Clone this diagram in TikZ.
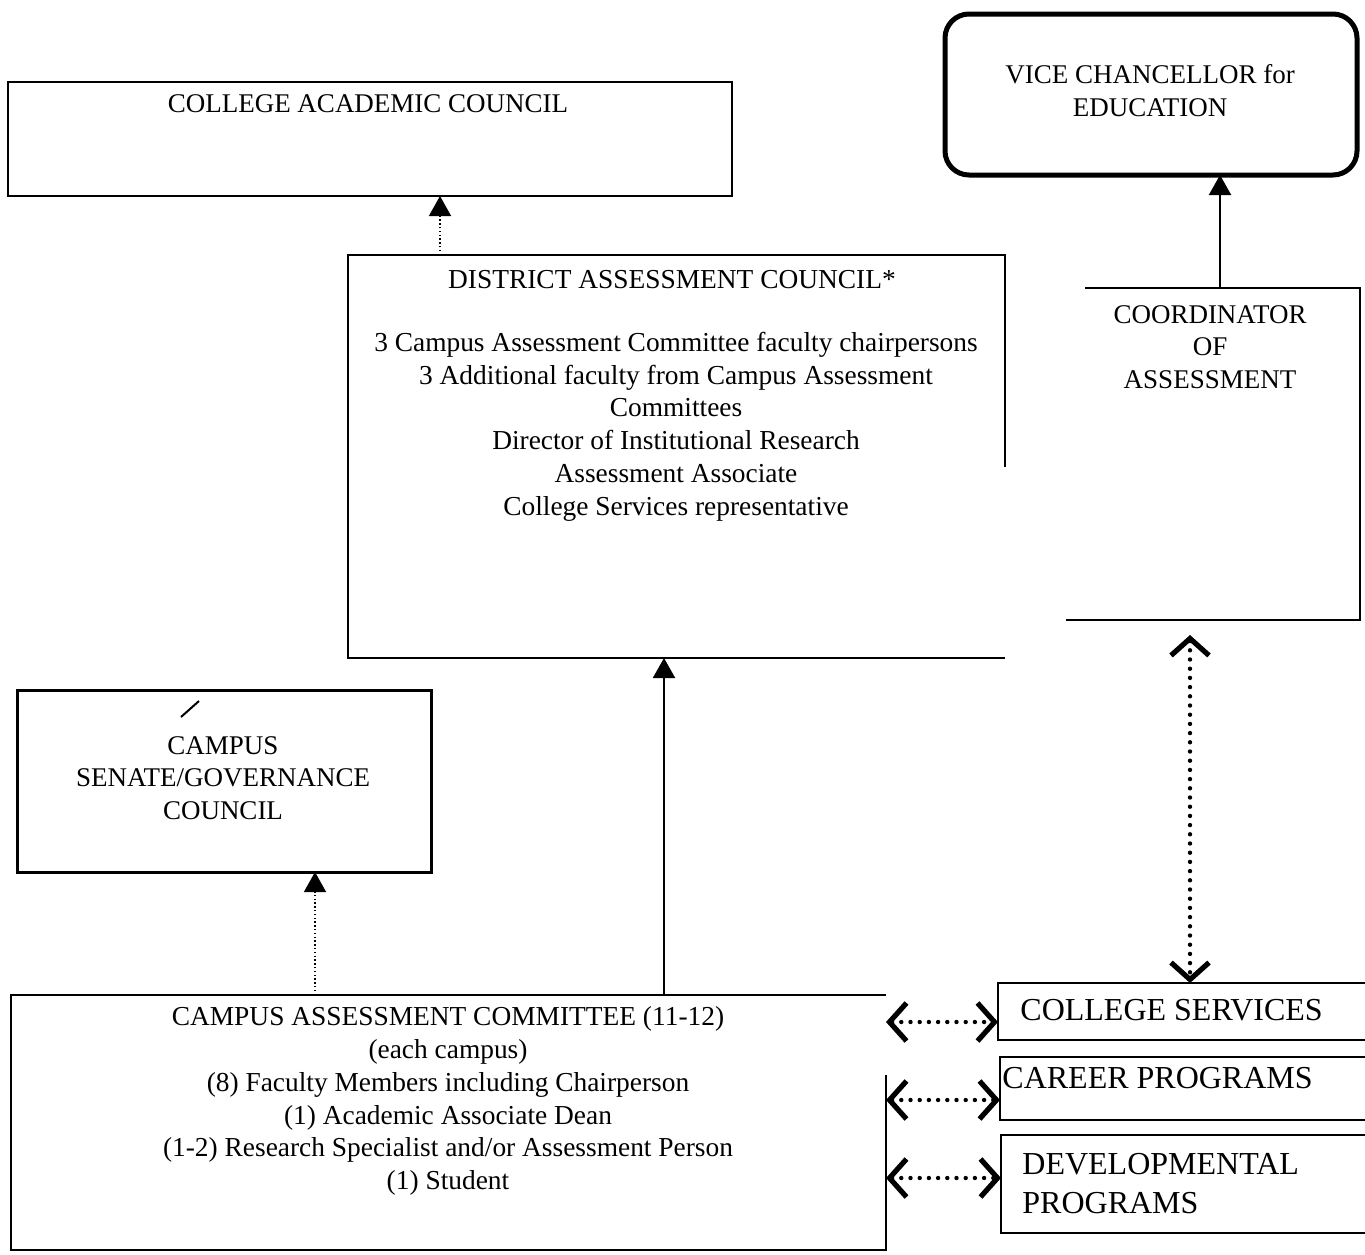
\documentclass[tikz,border=0pt]{standalone}
\usepackage{fontspec}
\setmainfont{Liberation Serif}
\usetikzlibrary{arrows.meta}
\begin{document}
\begin{tikzpicture}[x=0.5pt,y=-0.5pt,
 box/.style={draw=black, line width=1.2pt, inner sep=0pt, outer sep=0pt},
 frame/.style={inner sep=0pt, outer sep=0pt},
 lbl/.style={align=center, inner sep=0pt, font=\fontsize{13.7}{16.4}\selectfont},
 biglbl/.style={align=left, inner sep=0pt, anchor=west, font=\fontsize{16}{19.5}\selectfont},
 up/.style={-{Triangle[width=11pt,length=10pt]}, line width=1pt},
 dotup/.style={-{Triangle[width=11pt,length=10pt]}, line width=0.7pt, dash pattern=on 0.7pt off 1.2pt},
 vtip/.tip={Straight Barb[length=8.5pt,width=19pt,line width=2.6pt]},
 vv/.style={vtip-vtip, line width=2.2pt, dash pattern=on 0pt off 4.6pt, line cap=round}
]
\useasboundingbox (0,0) rectangle (1365,1254);

% boxes
\node[box, minimum width=362pt, minimum height=57pt] (cac) at (370,139) {};
\node[box, line width=2.5pt, rounded corners=12pt, minimum width=206pt, minimum height=80.5pt] (vc) at (1151,94.5) {};
\node[frame, minimum width=328.5pt, minimum height=201.5pt] (dac) at (676.5,456.5) {};
\draw[line width=1.2pt] ([yshift=-106pt]dac.north east) -- (dac.north east) -- (dac.north west) -- (dac.south west) -- (dac.south east);
\node[frame, minimum width=147pt, minimum height=166pt] (coa) at (1213,454) {};
\draw[line width=1.2pt] ([xshift=9.5pt]coa.north west) -- (coa.north east) -- (coa.south east) -- (coa.south west);
\node[box, line width=1.5pt, minimum width=207pt, minimum height=91pt] (csg) at (224,781) {};
\node[frame, minimum width=437.5pt, minimum height=127.5pt] (cam) at (448.5,1122.5) {};
\draw[line width=1.2pt] (cam.north east) -- (cam.north west) -- (cam.south west) -- (cam.south east) -- ([yshift=-40pt]cam.north east);
\node[box, minimum width=186pt, minimum height=28.5pt] (csv) at (1184,1011.5) {};
\node[box, minimum width=185pt, minimum height=31.5pt] (cpr) at (1185,1088.5) {};
\node[box, minimum width=184.5pt, minimum height=49pt] (dev) at (1185.5,1184) {};

% texts
\node[lbl, font=\fontsize{13.5}{16.4}\selectfont] (tcac) at (368,104) {COLLEGE ACADEMIC COUNCIL};
\node[lbl, font=\fontsize{13.5}{16.4}\selectfont] (tvc) at (1150,90.5) {VICE CHANCELLOR for\\EDUCATION};
\node[lbl] (tdac) at (672,280) {DISTRICT ASSESSMENT COUNCIL*};
\node[lbl] (tdacb) at (676,426.5) {3 Campus Assessment Committee faculty chairpersons\\3 Additional faculty from Campus Assessment\\Committees\\Director of Institutional Research\\Assessment Associate\\College Services representative};
\node[lbl, font=\fontsize{13.5}{16.4}\selectfont] (tcoa) at (1210,347) {COORDINATOR\\OF\\ASSESSMENT};
\node[lbl, font=\fontsize{13.5}{16.4}\selectfont] (tcsg) at (223,778) {CAMPUS\\SENATE/GOVERNANCE\\COUNCIL};
\node[lbl] (tcam) at (448,1101) {CAMPUS ASSESSMENT COMMITTEE (11-12)\\(each campus)\\(8) Faculty Members including Chairperson\\(1) Academic Associate Dean\\(1-2) Research Specialist and/or Assessment Person\\(1) Student};
\node[biglbl] (tcsv) at (1020,1010) {COLLEGE SERVICES};
\node[biglbl] (tcpr) at (1002,1078) {CAREER PROGRAMS};
\node[biglbl] (tdev) at (1022,1184) {DEVELOPMENTAL\\PROGRAMS};

% small mark in senate box
\coordinate (m1) at (181,717);
\coordinate (m2) at (199,701);
\draw[line width=1pt] (m1) -- (m2);

% connectors
\coordinate (x1) at (440,0);
\coordinate (x2) at (315,0);
\coordinate (x3) at (664,0);
\coordinate (x4) at (1220,0);
\coordinate (x5) at (1190,0);
\coordinate (y1) at (0,1022);
\coordinate (y2) at (0,1100);
\coordinate (y3) at (0,1178);
\draw[dotup] (dac.north -| x1) -- (cac.south -| x1);
\draw[dotup] (cam.north -| x2) -- (csg.south -| x2);
\draw[up] (cam.north -| x3) -- (dac.south -| x3);
\draw[up] (coa.north -| x4) -- (vc.south -| x4);
\draw[vv, shorten <=7.5pt] (coa.south -| x5) -- (csv.north -| x5);
\draw[vv] (cam.east |- y1) -- (csv.west |- y1);
\draw[vv] (cam.east |- y2) -- (cpr.west |- y2);
\draw[vv] (cam.east |- y3) -- (dev.west |- y3);
\end{tikzpicture}
\end{document}
